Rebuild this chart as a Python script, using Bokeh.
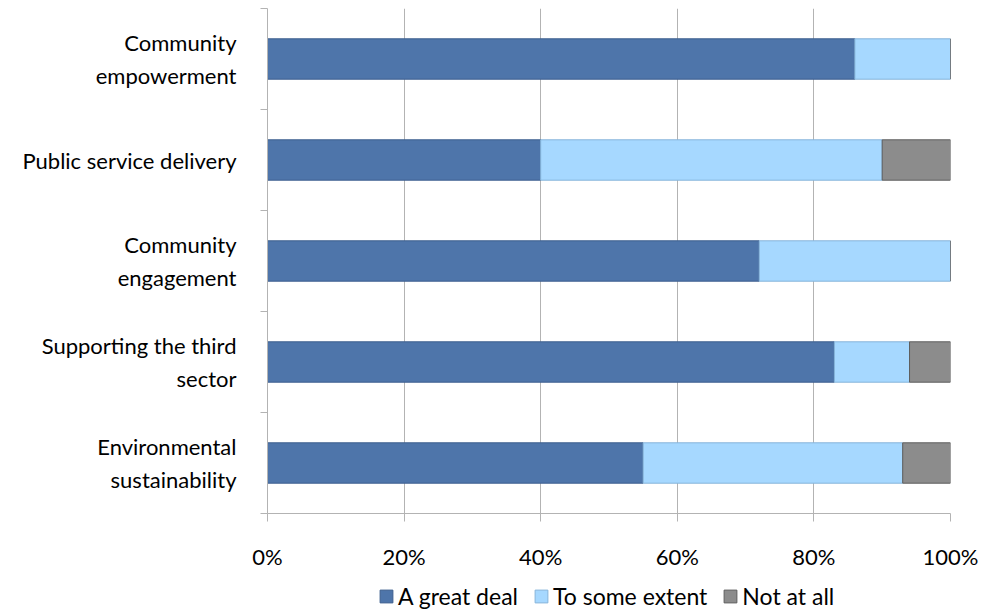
from bokeh.plotting import figure
from bokeh.layouts import column
from bokeh.models import FixedTicker, Legend, LegendItem, ColumnDataSource, Range1d
from bokeh.embed import file_html
from bokeh.resources import INLINE

# ---- data ----
categories = ["Community\nempowerment", "Public service delivery", "Community\nengagement",
              "Supporting the third\nsector", "Environmental\nsustainability"]
great_deal = [86, 40, 72, 83, 55]
some_extent = [14, 50, 28, 11, 38]
not_at_all = [0, 10, 0, 6, 7]
series = ["A great deal", "To some extent", "Not at all"]
x_ticks = [0, 20, 40, 60, 80, 100]
x_tick_labels = ["0%", "20%", "40%", "60%", "80%", "100%"]

# ---- styles ----
fills = ["#4E75AA", "#A6D8FF", "#8C8C8C"]
edges = ["#3D5F8E", "#86B4DA", "#5E5E5E"]
FONT = "Lato"
GRID = "#B3B3B3"

n = len(categories)
ypos = [n - 0.5 - i for i in range(n)]

p = figure(width=981, height=578, output_backend="svg", toolbar_location=None,
           x_range=(0, 100), y_range=(0, n), min_border_left=267, min_border_right=31,
           min_border_top=8, min_border_bottom=65)
p.outline_line_color = None
p.background_fill_color = "white"
p.border_fill_color = "white"

values = [great_deal, some_extent, not_at_all]
left = [0] * n
for k, vals in enumerate(values):
    right = [l + v for l, v in zip(left, vals)]
    src = ColumnDataSource(dict(y=ypos, left=left, right=right))
    p.hbar(y="y", left="left", right="right", height=0.4, source=src,
           fill_color=fills[k], line_color=edges[k], line_width=1)
    left = right

# x axis
p.xaxis.ticker = FixedTicker(ticks=x_ticks)
p.xaxis.major_label_overrides = {t: s for t, s in zip(x_ticks, x_tick_labels)}
p.xaxis.axis_line_color = GRID
p.xaxis.major_tick_line_color = GRID
p.xaxis.major_tick_out = 8
p.xaxis.major_tick_in = 0
p.xaxis.minor_tick_line_color = None
p.xaxis.major_label_standoff = 21
p.xaxis.major_label_text_font = FONT
p.xaxis.major_label_text_font_size = "22px"
p.xaxis.major_label_text_color = "#000000"

# y axis: labels at category centres, tick marks at category boundaries
p.yaxis.ticker = FixedTicker(ticks=ypos, minor_ticks=list(range(n + 1)))
p.yaxis.major_label_overrides = {y: c for y, c in zip(ypos, categories)}
p.yaxis.major_tick_out = 0
p.yaxis.major_tick_in = 0
p.yaxis.major_label_standoff = 24
p.yaxis.major_label_text_font = FONT
p.yaxis.major_label_text_font_size = "22px"
p.yaxis.major_label_text_color = "#000000"
p.yaxis.axis_line_color = GRID
p.yaxis.minor_tick_line_color = GRID
p.yaxis.minor_tick_out = 7
p.yaxis.minor_tick_in = 0

p.xgrid.ticker = FixedTicker(ticks=x_ticks)
p.xgrid.grid_line_color = GRID
p.ygrid.grid_line_color = None

# ---- legend strip ----
lg = figure(width=981, height=32, output_backend="svg", toolbar_location=None,
            x_range=Range1d(0, 1), y_range=Range1d(0, 1), min_border=0)
lg.axis.visible = False
lg.grid.visible = False
lg.outline_line_color = None
items = []
for k, s in enumerate(series):
    r = lg.hbar(y=[-5], left=[0], right=[1], height=0.4, fill_color=fills[k], line_color=edges[k])
    items.append(LegendItem(label=s, renderers=[r]))
legend = Legend(items=items, orientation="horizontal", location=(111, 0))
legend.label_text_font = FONT
legend.label_text_font_size = "23px"
legend.label_text_color = "#000000"
legend.glyph_width = 16
legend.glyph_height = 16
legend.label_standoff = 4
legend.spacing = 15
legend.padding = 0
legend.margin = 0
legend.border_line_color = None
legend.background_fill_alpha = 0
lg.add_layout(legend, "center")

open("out.html", "w").write(file_html(column(p, lg, spacing=0), INLINE))
